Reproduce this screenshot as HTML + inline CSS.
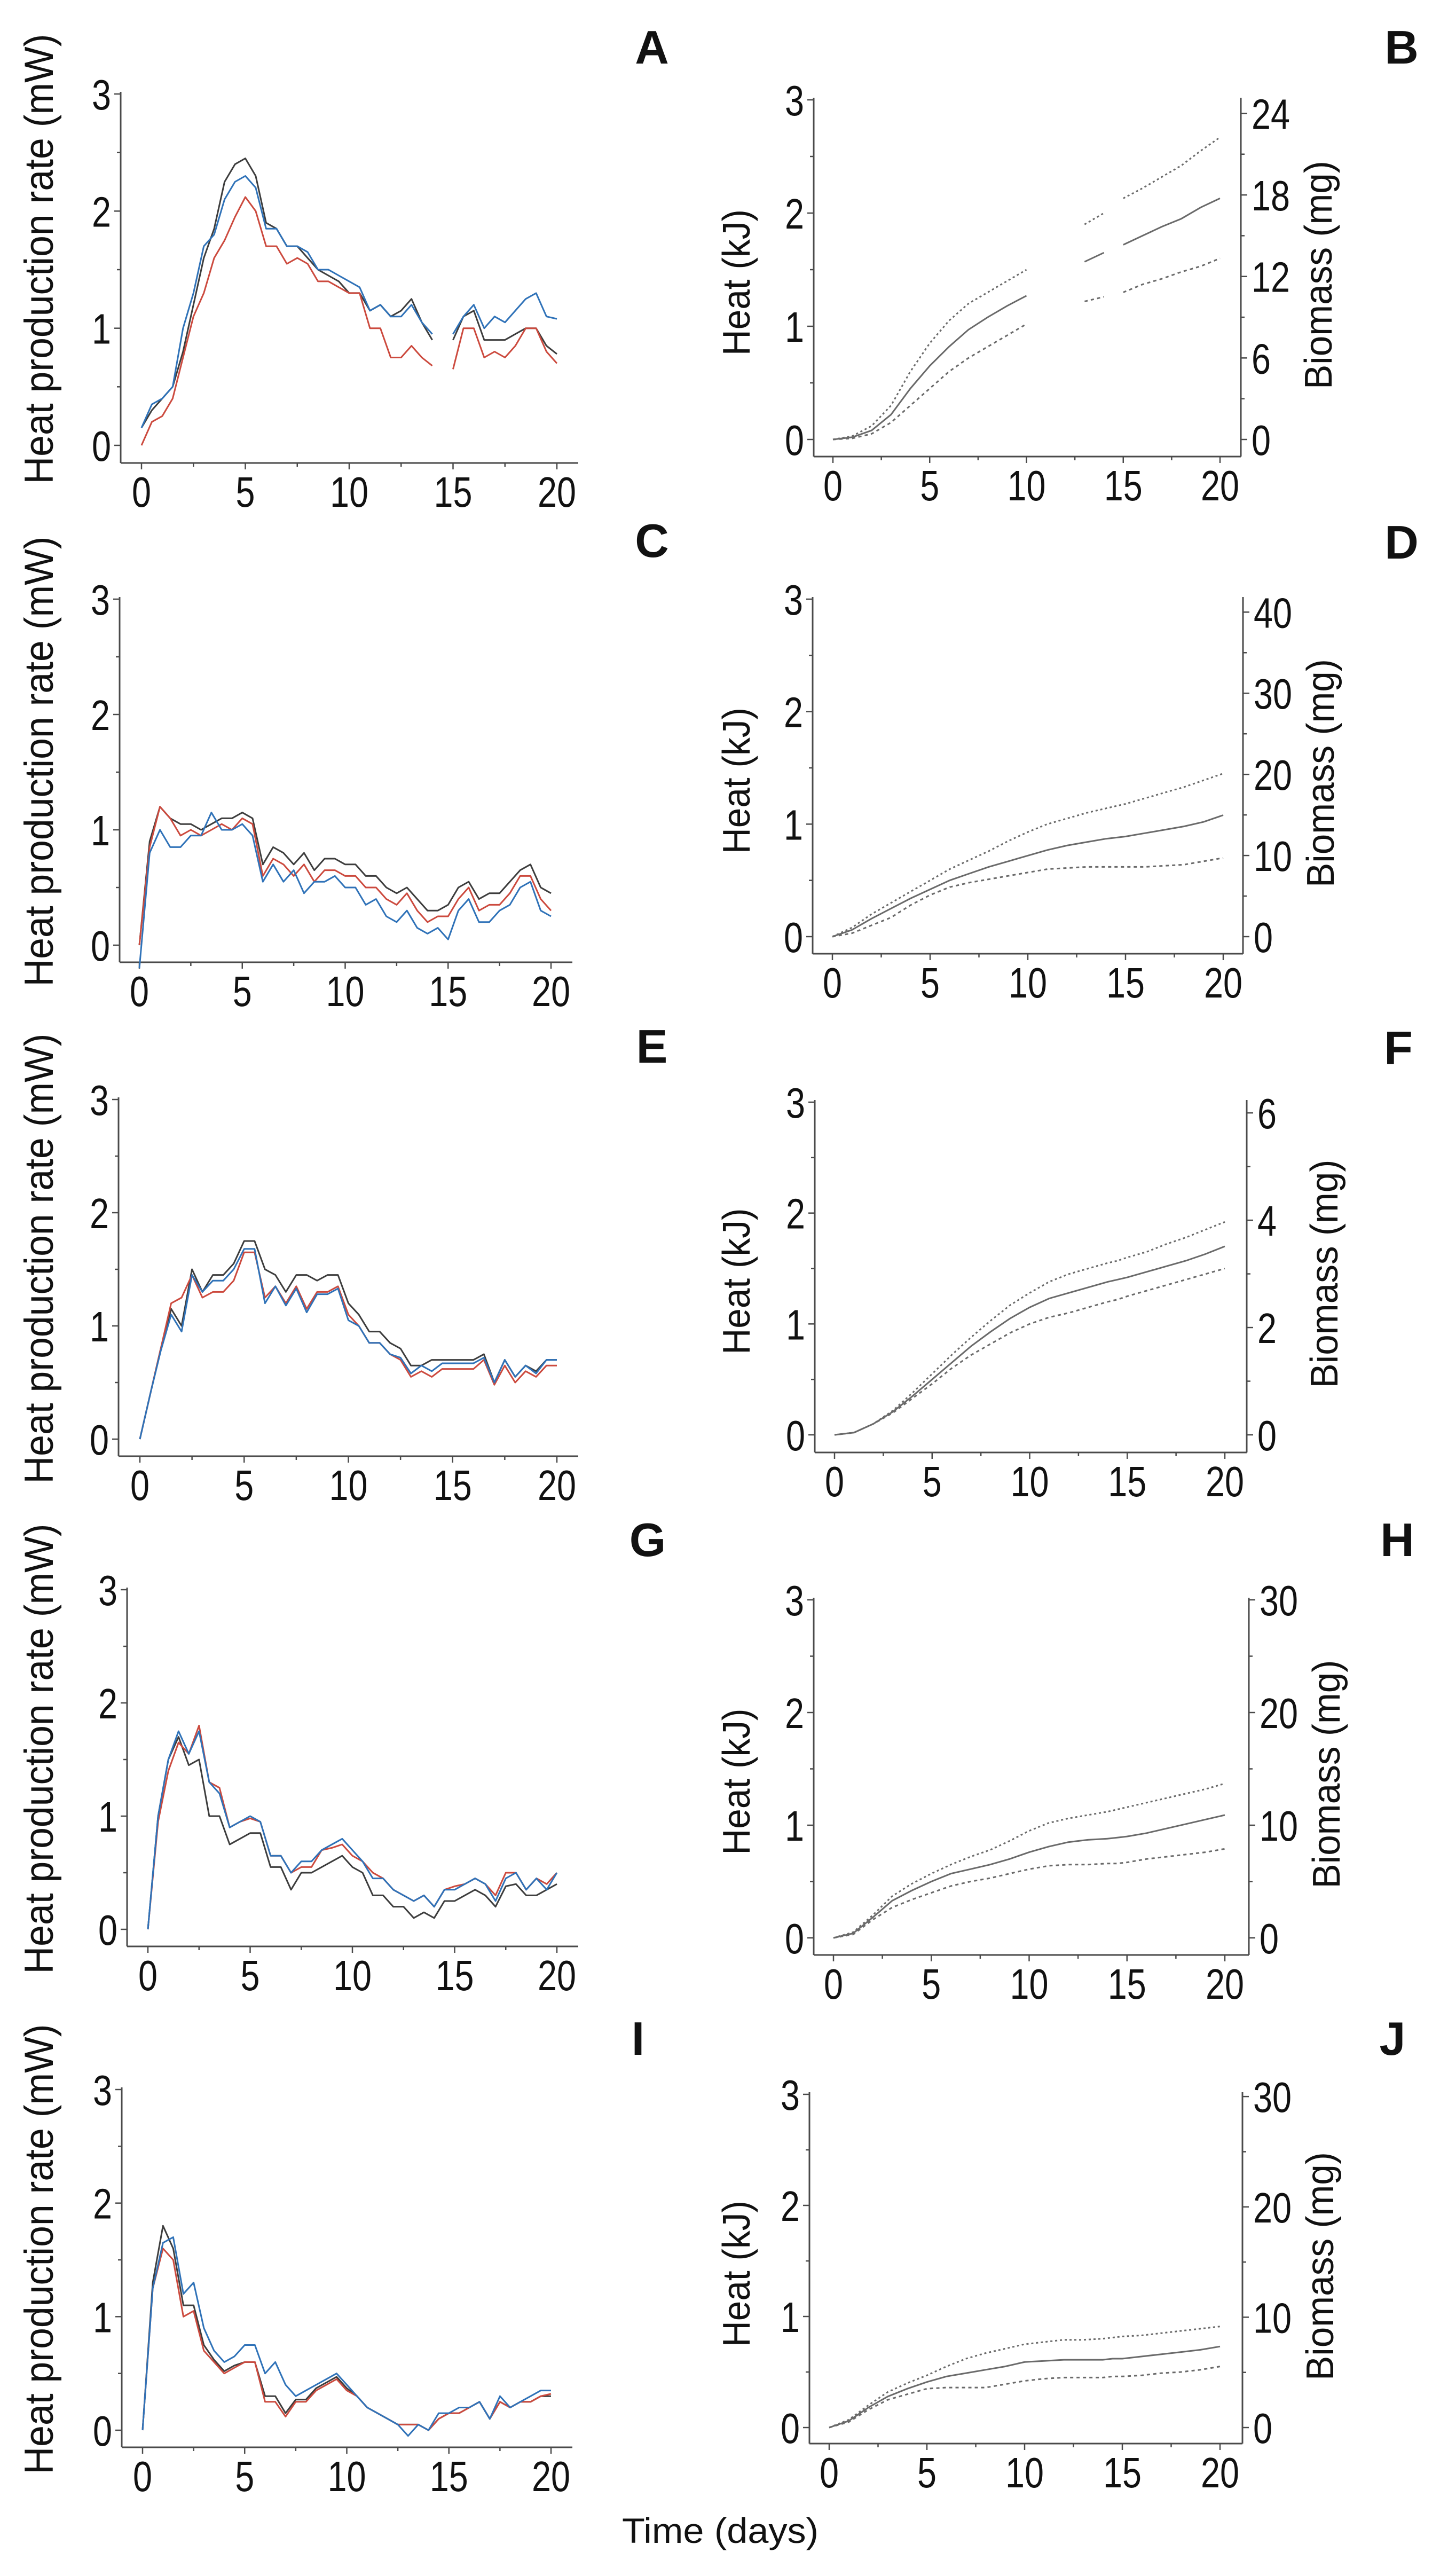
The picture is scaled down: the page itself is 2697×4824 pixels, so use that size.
<!DOCTYPE html>
<html><head><meta charset="utf-8"><style>
html,body{margin:0;padding:0;background:#fff}
svg{display:block}
text{font-family:"Liberation Sans",Arial,sans-serif;fill:#111}
</style></head><body>
<svg id="fig" xmlns="http://www.w3.org/2000/svg" width="2697" height="4824" viewBox="0 0 2697 4824"></svg>
<script>
// ---------- DATA ----------
const rateDays = [0,0.5,1,1.5,2,2.5,3,3.5,4,4.5,5,5.5,6,6.5,7,7.5,8,8.5,9,9.5,10,10.5,11,11.5,12,12.5,13,13.5,14,14.5,15,15.5,16,16.5,17,17.5,18,18.5,19,19.5,20];
const aBlack = [0.15,0.3,0.4,0.5,0.8,1.2,1.6,1.85,2.25,2.4,2.45,2.3,1.9,1.85,1.7,1.7,1.6,1.5,1.45,1.4,1.3,1.3,1.15,1.2,1.1,1.15,1.25,1.05,0.9,null,0.9,1.1,1.15,0.9,0.9,0.9,0.95,1.0,1.0,0.85,0.78];
const aRed   = [0,0.2,0.25,0.4,0.75,1.1,1.3,1.6,1.75,1.95,2.12,2.0,1.7,1.7,1.55,1.6,1.55,1.4,1.4,1.35,1.3,1.3,1.0,1.0,0.75,0.75,0.85,0.75,0.68,null,0.65,1.0,1.0,0.75,0.8,0.75,0.85,1.0,1.0,0.8,0.7];
const aBlue  = [0.15,0.35,0.4,0.5,1.0,1.3,1.7,1.8,2.1,2.25,2.3,2.2,1.85,1.85,1.7,1.7,1.65,1.5,1.5,1.45,1.4,1.35,1.15,1.2,1.1,1.1,1.2,1.05,0.95,null,0.95,1.1,1.2,1.0,1.1,1.05,1.15,1.25,1.3,1.1,1.08];
const cBlack = [0,0.9,1.2,1.1,1.05,1.05,1.0,1.05,1.1,1.1,1.15,1.1,0.7,0.85,0.8,0.7,0.8,0.65,0.75,0.75,0.7,0.7,0.6,0.6,0.5,0.45,0.5,0.4,0.3,0.3,0.35,0.5,0.55,0.4,0.45,0.45,0.55,0.65,0.7,0.5,0.45];
const cRed   = [0,0.85,1.2,1.1,0.95,1.0,0.95,1.0,1.05,1.0,1.1,1.05,0.6,0.75,0.7,0.6,0.7,0.55,0.65,0.65,0.6,0.6,0.5,0.5,0.4,0.35,0.45,0.3,0.2,0.25,0.25,0.4,0.5,0.3,0.35,0.35,0.45,0.6,0.6,0.4,0.3];
const cBlue  = [-0.2,0.8,1.0,0.85,0.85,0.95,0.95,1.15,1.0,1.0,1.05,0.95,0.55,0.7,0.55,0.65,0.45,0.55,0.55,0.6,0.5,0.5,0.35,0.4,0.25,0.2,0.3,0.15,0.1,0.15,0.05,0.3,0.4,0.2,0.2,0.3,0.35,0.5,0.55,0.3,0.25];
const eBlack = [0,0.4,0.8,1.15,1.0,1.5,1.3,1.45,1.45,1.55,1.75,1.75,1.5,1.45,1.3,1.45,1.45,1.4,1.45,1.45,1.2,1.1,0.95,0.95,0.85,0.8,0.65,0.65,0.7,0.7,0.7,0.7,0.7,0.75,0.5,0.7,0.55,0.65,0.6,0.7,0.7];
const eRed   = [0,0.4,0.8,1.2,1.25,1.45,1.25,1.3,1.3,1.4,1.65,1.65,1.25,1.35,1.2,1.35,1.15,1.3,1.3,1.35,1.1,1.0,0.85,0.85,0.75,0.7,0.55,0.6,0.55,0.62,0.62,0.62,0.62,0.7,0.48,0.65,0.5,0.6,0.55,0.65,0.65];
const eBlue  = [0,0.4,0.78,1.1,0.95,1.45,1.3,1.4,1.4,1.5,1.68,1.68,1.2,1.35,1.18,1.33,1.12,1.28,1.28,1.33,1.05,1.0,0.85,0.85,0.75,0.72,0.58,0.65,0.6,0.67,0.67,0.67,0.67,0.72,0.5,0.7,0.55,0.65,0.58,0.7,0.7];
const gBlack = [0,1.0,1.5,1.7,1.45,1.5,1.0,1.0,0.75,0.8,0.85,0.85,0.55,0.55,0.35,0.5,0.5,0.55,0.6,0.65,0.55,0.5,0.3,0.3,0.2,0.2,0.1,0.15,0.1,0.25,0.25,0.3,0.35,0.3,0.2,0.38,0.4,0.3,0.3,0.35,0.4];
const gRed   = [0,0.95,1.4,1.65,1.55,1.8,1.3,1.25,0.9,0.95,0.98,0.95,0.65,0.65,0.5,0.55,0.55,0.7,0.72,0.75,0.65,0.6,0.5,0.45,0.35,0.3,0.25,0.3,0.2,0.35,0.38,0.4,0.45,0.4,0.3,0.5,0.5,0.35,0.45,0.4,0.5];
const gBlue  = [0,1.0,1.5,1.75,1.55,1.75,1.3,1.2,0.9,0.95,1.0,0.95,0.65,0.65,0.5,0.6,0.6,0.7,0.75,0.8,0.7,0.6,0.45,0.45,0.35,0.3,0.25,0.3,0.2,0.35,0.35,0.4,0.45,0.4,0.25,0.45,0.5,0.35,0.45,0.35,0.5];
const iBlack = [0,1.3,1.8,1.6,1.1,1.1,0.75,0.62,0.52,0.57,0.6,0.6,0.3,0.3,0.15,0.27,0.27,0.37,0.42,0.47,0.37,0.3,0.2,0.15,0.1,0.05,0.05,0.05,0.0,0.1,0.15,0.15,0.2,0.25,0.1,0.25,0.2,0.25,0.25,0.3,0.3];
const iRed   = [0,1.25,1.6,1.5,1.0,1.05,0.7,0.6,0.5,0.55,0.6,0.6,0.25,0.25,0.12,0.25,0.25,0.35,0.4,0.45,0.35,0.3,0.2,0.15,0.1,0.05,0.05,0.05,0.0,0.1,0.15,0.15,0.2,0.25,0.1,0.25,0.2,0.25,0.25,0.3,0.32];
const iBlue  = [0,1.25,1.65,1.7,1.2,1.3,0.9,0.7,0.6,0.65,0.75,0.75,0.5,0.6,0.4,0.3,0.35,0.4,0.45,0.5,0.4,0.3,0.2,0.15,0.1,0.05,-0.05,0.05,0.0,0.15,0.15,0.2,0.2,0.25,0.1,0.3,0.2,0.25,0.3,0.35,0.35];

const cumDays = [0,1,2,3,4,5,6,7,8,9,10,11,12,13,14,14.5,15,16,17,18,19,20];
const bUpper = [0,0.03,0.12,0.3,0.6,0.85,1.05,1.2,1.3,1.4,1.5,null,null,1.9,2.0,null,2.13,2.22,2.32,2.42,2.55,2.67];
const bMid   = [0,0.02,0.08,0.22,0.45,0.65,0.82,0.97,1.08,1.18,1.27,null,null,1.57,1.65,null,1.72,1.8,1.88,1.95,2.05,2.13];
const bLower = [0,0.01,0.05,0.15,0.3,0.45,0.6,0.72,0.82,0.92,1.02,null,null,1.22,1.26,null,1.3,1.37,1.42,1.48,1.53,1.6];
const dUpper = [0,0.08,0.2,0.3,0.4,0.5,0.6,0.68,0.76,0.85,0.93,1.0,1.05,1.1,1.14,1.16,1.18,1.23,1.28,1.33,1.39,1.45];
const dMid   = [0,0.06,0.16,0.25,0.34,0.42,0.5,0.56,0.62,0.67,0.72,0.77,0.81,0.84,0.87,0.88,0.89,0.92,0.95,0.98,1.02,1.08];
const dLower = [0,0.03,0.1,0.17,0.28,0.37,0.44,0.48,0.51,0.54,0.57,0.6,0.61,0.62,0.62,0.62,0.62,0.62,0.63,0.64,0.67,0.7];
const fUpper = [0,0.02,0.1,0.22,0.38,0.55,0.72,0.88,1.03,1.17,1.28,1.38,1.45,1.5,1.55,1.57,1.6,1.65,1.72,1.78,1.85,1.92];
const fMid   = [0,0.02,0.1,0.21,0.35,0.5,0.65,0.8,0.93,1.05,1.15,1.23,1.28,1.33,1.38,1.4,1.42,1.47,1.52,1.57,1.63,1.7];
const fLower = [0,0.02,0.1,0.2,0.33,0.46,0.6,0.72,0.82,0.92,1.0,1.06,1.1,1.15,1.2,1.22,1.25,1.3,1.35,1.4,1.45,1.5];
const hUpper = [0,0.05,0.2,0.37,0.48,0.57,0.65,0.72,0.78,0.86,0.95,1.02,1.06,1.09,1.12,1.14,1.16,1.2,1.24,1.28,1.32,1.37];
const hMid   = [0,0.04,0.18,0.33,0.42,0.5,0.57,0.61,0.65,0.7,0.76,0.81,0.85,0.87,0.88,0.89,0.9,0.93,0.97,1.01,1.05,1.09];
const hLower = [0,0.03,0.16,0.27,0.34,0.4,0.46,0.5,0.53,0.57,0.61,0.64,0.65,0.65,0.66,0.66,0.67,0.7,0.72,0.74,0.76,0.79];
const jUpper = [0,0.07,0.2,0.32,0.4,0.47,0.55,0.62,0.67,0.71,0.75,0.77,0.79,0.79,0.8,0.81,0.82,0.83,0.85,0.87,0.89,0.91];
const jMid   = [0,0.06,0.18,0.28,0.35,0.41,0.46,0.49,0.52,0.55,0.59,0.6,0.61,0.61,0.61,0.62,0.62,0.64,0.66,0.68,0.7,0.73];
const jLower = [0,0.05,0.16,0.25,0.3,0.35,0.36,0.36,0.36,0.39,0.42,0.44,0.45,0.45,0.45,0.46,0.46,0.47,0.49,0.5,0.52,0.55];

const xTicks = [0,5,10,15,20];
const leftTicks = [0,1,2,3];
const bTicks = [0,6,12,18,24];
const dTicks = [0,10,20,30,40];
const fTicks = [0,2,4,6];
const hTicks = [0,10,20,30];
const jTicks = [0,10,20,30];

// ---------- DRAWING ----------
const NS = "http://www.w3.org/2000/svg";
const svg = document.getElementById('fig');
function mk(tag, attrs, parent){
  const e = document.createElementNS(NS, tag);
  for (const k in attrs) e.setAttribute(k, attrs[k]);
  (parent||svg).appendChild(e);
  return e;
}
function txt(parent, x, y, s, size, opts){
  opts = opts||{};
  const t = mk('text', {x:x, y:y, 'font-size':size, 'text-anchor':opts.anchor||'middle'}, parent);
  if (opts.weight) t.setAttribute('font-weight', opts.weight);
  if (opts.len){ t.setAttribute('textLength', opts.len); t.setAttribute('lengthAdjust','spacingAndGlyphs'); }
  if (opts.rot) t.setAttribute('transform', 'rotate(' + opts.rot + ' ' + x + ' ' + y + ')');
  t.textContent = s;
  return t;
}
const AX = '#4a4a4a';

function frame(g, P, isRight){
  const sx = v => P.x0 + (P.x20 - P.x0) * v / 20;
  const sy = v => P.y0 - (P.y0 - P.y3) * v / 3;
  // axes
  const yAxis = mk('line', {x1:P.ax, y1:P.y3-4, x2:P.ax, y2:P.xaxis, stroke:AX, 'stroke-width':3}, g);
  
  
  const xEnd = isRight ? P.rx : P.x20 + 40;
  const xAxis = mk('line', {x1:P.ax, y1:P.xaxis, x2:xEnd, y2:P.xaxis, stroke:AX, 'stroke-width':3}, g);
  
  
  for (let v = 0; v <= 20; v += 2.5){
    const major = v % 5 === 0;
    mk('line', {x1:sx(v), y1:P.xaxis, x2:sx(v), y2:P.xaxis + (major?12:7), stroke:AX, 'stroke-width':2.5}, g);
  }
  xTicks.forEach(v => {
    const t = txt(g, sx(v), P.xaxis + 82, String(v), 80, {len: String(v).length * 36});
    
    
  });
  for (let v = 0; v <= 3; v += 0.5){
    const major = Number.isInteger(v);
    mk('line', {x1:P.ax, y1:sy(v), x2:P.ax - (major?12:7), y2:sy(v), stroke:AX, 'stroke-width':2.5}, g);
  }
  leftTicks.forEach(v => {
    const t = txt(g, P.ax - 18, sy(v) + 29, String(v), 80, {anchor:'end', len:36});
    
    
  });
  const L = mk('text', {x:P.lx, y:P.ly, 'font-size':88, 'font-weight':'bold', 'text-anchor':'middle'}, g);
  L.textContent = P.letter;
  
  
  return {sx, sy};
}

function pathFrom(xs, ys, sx, sy){
  let d = '', pen = false;
  for (let i = 0; i < xs.length; i++){
    if (ys[i] === null){ pen = false; continue; }
    d += (pen ? 'L' : 'M') + sx(xs[i]).toFixed(1) + ' ' + sy(ys[i]).toFixed(1);
    pen = true;
  }
  return d;
}

const leftPanels = [
  {letter:'A', ax:226, x0:265, x20:1043, y3:176, y0:834, xaxis:867, lx:1221, ly:119, s:[aBlack,aRed,aBlue]},
  {letter:'C', ax:224, x0:261, x20:1032, y3:1122, y0:1770, xaxis:1802, lx:1221, ly:1043, s:[cBlack,cRed,cBlue]},
  {letter:'E', ax:222, x0:262, x20:1043, y3:2059, y0:2695, xaxis:2727, lx:1221, ly:1990, s:[eBlack,eRed,eBlue]},
  {letter:'G', ax:238, x0:277, x20:1043, y3:2977, y0:3613, xaxis:3645, lx:1213, ly:2914, s:[gBlack,gRed,gBlue]},
  {letter:'I', ax:228, x0:267, x20:1032, y3:3913, y0:4551, xaxis:4583, lx:1195, ly:3848, s:[iBlack,iRed,iBlue]}
];
const colors = ['#3d3d3d','#cc4a3e','#2f72b8'];
const cnames = ['black-series','red-series','blue-series'];

leftPanels.forEach(P => {
  const g = mk('g', {});
  
  
  const {sx, sy} = frame(g, P, false);
  const yl = txt(g, 99, (P.y3 + P.y0) / 2 - 20, 'Heat production rate (mW)', 76, {rot:-90, len:843});
  
  
  P.s.forEach((ys, k) => {
    const p = mk('path', {d:pathFrom(rateDays, ys, sx, sy), fill:'none', stroke:colors[k], 'stroke-width':3, 'stroke-linejoin':'round'}, g);
    
    
  });
});

const rightPanels = [
  {letter:'B', ax:1524, rx:2324, x0:1560, x20:2285, y3:187, y0:823, xaxis:855, rmax:25, rt:bTicks, lx:2625, ly:119, s:[bUpper,bMid,bLower]},
  {letter:'D', ax:1522, rx:2328, x0:1559, x20:2291, y3:1122, y0:1754, xaxis:1786, rmax:41.6, rt:dTicks, lx:2625, ly:1046, s:[dUpper,dMid,dLower]},
  {letter:'F', ax:1526, rx:2335, x0:1563, x20:2294, y3:2064, y0:2687, xaxis:2720, rmax:6.2, rt:fTicks, lx:2619, ly:1993, s:[fUpper,fMid,fLower]},
  {letter:'H', ax:1524, rx:2339, x0:1561, x20:2294, y3:2996, y0:3629, xaxis:3661, rmax:30, rt:hTicks, lx:2617, ly:2914, s:[hUpper,hMid,hLower]},
  {letter:'J', ax:1516, rx:2327, x0:1553, x20:2285, y3:3922, y0:4546, xaxis:4576, rmax:30.2, rt:jTicks, lx:2608, ly:3848, s:[jUpper,jMid,jLower]}
];
const dashes = ['4 5','none','6 6'];
const lnames = ['upper-bound-curve','mean-curve','lower-bound-curve'];

rightPanels.forEach(P => {
  const g = mk('g', {});
  
  
  const {sx, sy} = frame(g, P, true);
  const ry = v => P.y0 - (P.y0 - P.y3) * v / P.rmax;
  const ra = mk('line', {x1:P.rx, y1:P.y3-4, x2:P.rx, y2:P.xaxis, stroke:AX, 'stroke-width':3}, g);
  
  
  const step = P.rt[1] - P.rt[0];
  for (let v = 0; v <= P.rmax + 0.001; v += step / 2){
    const major = Math.abs(v / step - Math.round(v / step)) < 1e-6;
    mk('line', {x1:P.rx, y1:ry(v), x2:P.rx + (major?12:7), y2:ry(v), stroke:AX, 'stroke-width':2.5}, g);
  }
  P.rt.forEach(v => {
    const t = txt(g, P.rx + 20, ry(v) + 29, String(v), 80, {anchor:'start', len:String(v).length * 36});
    
    
  });
  const hl = txt(g, 1404, (P.y3 + P.y0) / 2 + 24, 'Heat (kJ)', 72, {rot:-90, len:274});
  
  
  const bl = txt(g, P.rx + 170, (P.y3 + P.y0) / 2 + 10, 'Biomass (mg)', 72, {rot:-90, len:428});
  
  
  P.s.forEach((ys, k) => {
    const p = mk('path', {d:pathFrom(cumDays, ys, sx, sy), fill:'none', stroke:'#6a6a6a', 'stroke-width':3, 'stroke-dasharray':dashes[k]}, g);
    
    
  });
});

const tl = txt(svg, 1349, 4762, 'Time (days)', 66, {len:368});


</script>
</body></html>
